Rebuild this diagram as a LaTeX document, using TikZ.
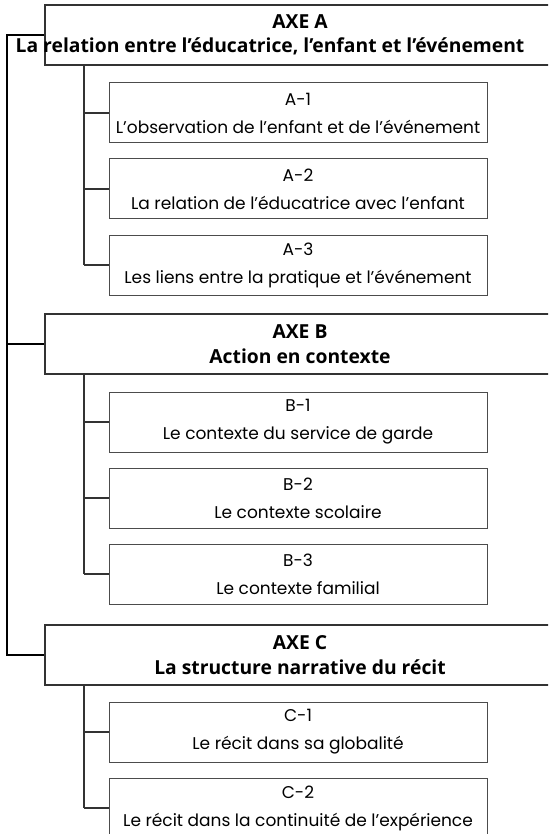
\documentclass[tikz,border=0pt]{standalone}
\usepackage{fontspec}
\setmainfont{Poppins}
\newfontfamily\headfont{Open Sans}
\begin{document}
\begin{tikzpicture}[x=1pt,y=-1pt,
        axe box/.style={draw=black!80,line width=1.1pt,fill=white,
           minimum width=510pt,minimum height=60pt,align=center,
           font=\headfont\bfseries\fontsize{19.3}{24.5}\selectfont},
        sub box/.style={draw=black!70,line width=1pt,fill=white,
           minimum width=378pt,minimum height=60pt,align=center,
           font=\fontsize{17}{28}\selectfont},
        trunk line/.style={line width=2pt,black},
        branch line/.style={line width=1.2pt,black!80},
    ]
    \useasboundingbox (0,0) rectangle (548,834);
    \clip (0,0) rectangle (548,834);
    % axes
    \node[axe box] (axeA) at (300,35)
        {AXE A\\\hspace*{-60pt}La relation entre l’éducatrice, l’enfant et l’événement};
    \node[axe box] (axeB) at (300,344) {AXE B\\Action en contexte};
    \node[axe box] (axeC) at (300,655) {AXE C\\La structure narrative du récit};
    % sub-axes
    \node[sub box] (a1) at (298,113) {A-1\\L’observation de l’enfant et de l’événement};
    \node[sub box] (a2) at (298,189) {A-2\\La relation de l’éducatrice avec l’enfant};
    \node[sub box] (a3) at (298,265) {A-3\\Les liens entre la pratique et l’événement};
    \node[sub box] (b1) at (298,422) {B-1\\Le contexte du service de garde};
    \node[sub box] (b2) at (298,498) {B-2\\Le contexte scolaire};
    \node[sub box] (b3) at (298,574) {B-3\\Le contexte familial};
    \node[sub box] (c1) at (298,732) {C-1\\Le récit dans sa globalité};
    \node[sub box] (c2) at (298,808) {C-2\\Le récit dans la continuité de l’expérience};
    % trunk
    \coordinate (trunkA) at ([xshift=-37pt]axeA.west);
    \coordinate (trunkB) at ([xshift=-37pt]axeB.west);
    \coordinate (trunkC) at ([xshift=-37pt]axeC.west);
    \draw[trunk line] (axeA.west) -- (trunkA) -- (trunkC) -- (axeC.west);
    \draw[trunk line] (trunkB) -- (axeB.west);
    % branches
    \foreach \axe/\last/\subs in {axeA/a3/{a1,a2,a3},axeB/b3/{b1,b2,b3},axeC/c2/{c1,c2}}{
        \coordinate (top) at (84,0 |- \axe.south);
        \draw[branch line] (top) -- (top |- \last.west);
        \foreach \s in \subs
            \draw[branch line] (top |- \s.west) -- (\s.west);
    }
\end{tikzpicture}
\end{document}
